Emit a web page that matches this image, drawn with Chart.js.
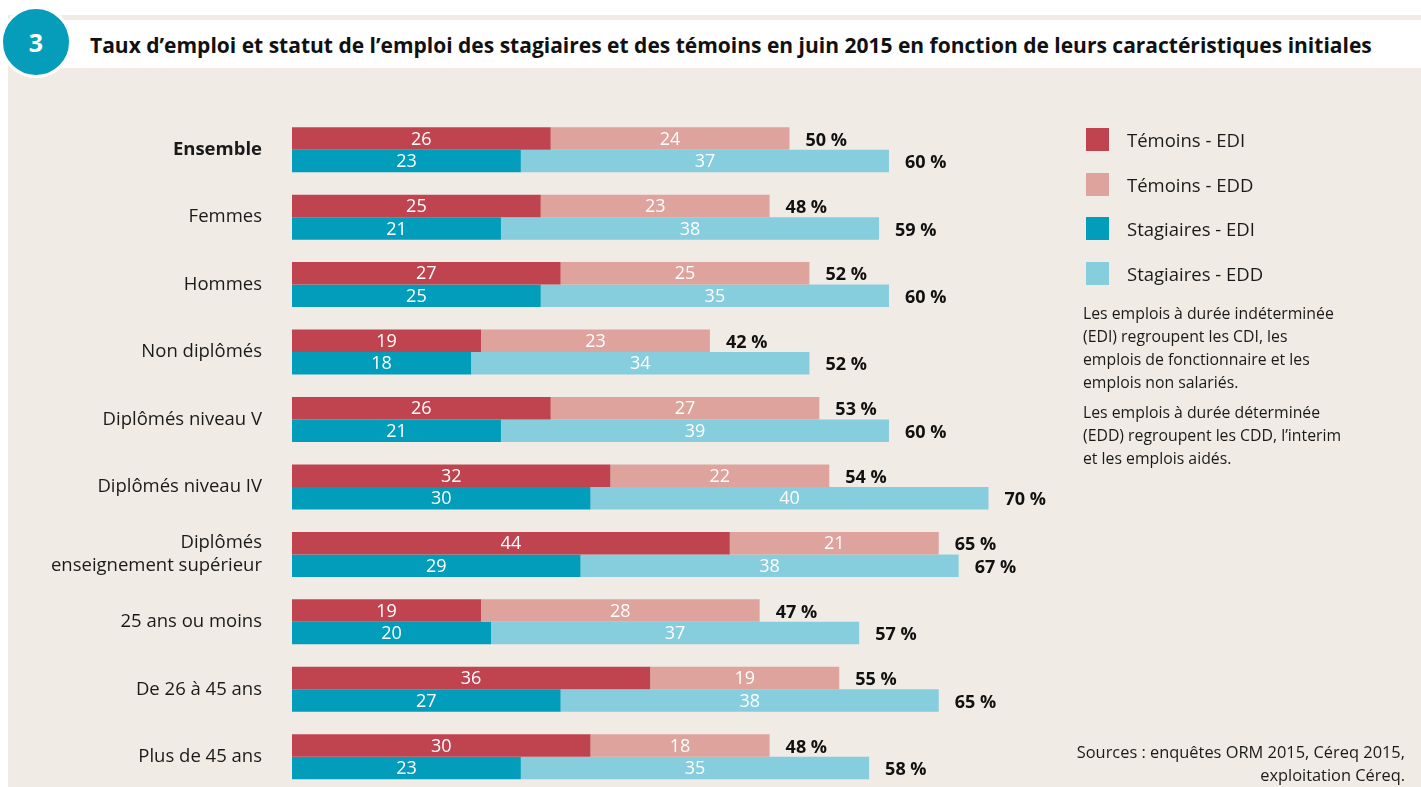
<!DOCTYPE html>
<html lang="fr">
<head>
<meta charset="utf-8">
<script src="https://cdn.jsdelivr.net/npm/chart.js@4.4.1/dist/chart.umd.min.js"></script>
<style>
    html, body { margin: 0; padding: 0; background: #ffffff; overflow: hidden; }
    body { width: 1421px; height: 787px; position: relative; font-family: "Open Sans", Lato, sans-serif; color: #1a1a1a; }
    .panel { position: absolute; left: 8px; top: 15px; right: 0; bottom: 0; background: #f0ece5; }
    .title-strip { position: absolute; left: 60px; top: 20px; right: 0; height: 48px; background: #ffffff; }
    .title {
        position: absolute; left: 90px; top: 31px;
        font-size: 21px; font-weight: 700; color: #111; white-space: nowrap;
    }
    .badge {
        position: absolute; left: 0px; top: 6px; width: 66px; height: 66px;
        border-radius: 50%; background: #069dbb; border: 3px solid #ffffff;
        color: #fff; font-weight: 700; font-size: 25px;
        display: flex; align-items: center; justify-content: center;
    }
    #chart { position: absolute; left: 0; top: 0; }
    .legend { position: absolute; left: 1086px; top: 128px; }
    .legend-item { display: flex; align-items: center; height: 23px; margin-bottom: 21.5px; font-size: 18.5px; }
    .legend-item span.sw { width: 23px; height: 23px; margin-right: 18px; display: inline-block; }
    .notes { position: absolute; left: 1083px; top: 302px; width: 320px; font-size: 15.8px; line-height: 23px; white-space: nowrap; }
    .notes p { margin: 0 0 7px 0; }
    .sources { position: absolute; right: 16px; top: 740px; font-size: 16.4px; line-height: 23px; text-align: right; }
</style>
</head>
<body>
<div class="panel"></div>
<div class="title-strip"></div>
<div class="badge">3</div>
<div class="title">Taux d’emploi et statut de l’emploi des stagiaires et des témoins en juin 2015 en fonction de leurs caractéristiques initiales</div>
<canvas id="chart" width="1421" height="824"></canvas>
<div class="legend" id="legend"></div>
<div class="notes">
    <p>Les emplois à durée indéterminée<br>(EDI) regroupent les CDI, les<br>emplois de fonctionnaire et les<br>emplois non salariés.</p>
    <p>Les emplois à durée déterminée<br>(EDD) regroupent les CDD, l’interim<br>et les emplois aidés.</p>
</div>
<div class="sources">Sources : enquêtes ORM 2015, Céreq 2015,<br>exploitation Céreq.</div>

<script>
// données
const categories = [
    'Ensemble', 'Femmes', 'Hommes', 'Non diplômés', 'Diplômés niveau V', 'Diplômés niveau IV',
    ['Diplômés', 'enseignement supérieur'], '25 ans ou moins', 'De 26 à 45 ans', 'Plus de 45 ans'
];
const temoinsEDI    = [26, 25, 27, 19, 26, 32, 44, 19, 36, 30];
const temoinsEDD    = [24, 23, 25, 23, 27, 22, 21, 28, 19, 18];
const stagiairesEDI = [23, 21, 25, 18, 21, 30, 29, 20, 27, 23];
const stagiairesEDD = [37, 38, 35, 34, 39, 40, 38, 37, 38, 35];

const seriesLabels = ['Témoins - EDI', 'Témoins - EDD', 'Stagiaires - EDI', 'Stagiaires - EDD'];
const seriesColors = ['#c0444f', '#dea39c', '#029dbb', '#86cddd'];

const fontFamily = '"Open Sans", Lato, sans-serif';

const datasets = [
    { label: seriesLabels[0], data: temoinsEDI, backgroundColor: seriesColors[0], stack: 'T' },
    { label: seriesLabels[1], data: temoinsEDD, backgroundColor: seriesColors[1], stack: 'T' },
    { label: seriesLabels[2], data: stagiairesEDI, backgroundColor: seriesColors[2], stack: 'S' },
    { label: seriesLabels[3], data: stagiairesEDD, backgroundColor: seriesColors[3], stack: 'S' }
].map(d => ({ ...d, borderWidth: 0, barPercentage: 1, categoryPercentage: 0.667 }));

// légende en HTML
document.getElementById('legend').innerHTML = seriesLabels.map((lbl, i) =>
    `<div class="legend-item"><span class="sw" style="background:${seriesColors[i]}"></span>${lbl}</div>`
).join('');

// valeurs dans les barres + totaux en bout de barre
const valueLabels = {
    id: 'valueLabels',
    afterDatasetsDraw(chart) {
        const ctx = chart.ctx;
        ctx.save();
        ctx.textBaseline = 'middle';
        chart.data.datasets.forEach((ds, di) => {
            const meta = chart.getDatasetMeta(di);
            meta.data.forEach((bar, i) => {
                ctx.fillStyle = '#ffffff';
                ctx.font = `18px ${fontFamily}`;
                ctx.textAlign = 'center';
                ctx.fillText(ds.data[i], (bar.x + bar.base) / 2, bar.y + 1);

                // dernier segment de la pile -> total
                if (di === 1 || di === 3) {
                    const first = chart.data.datasets[di - 1].data[i];
                    const total = first + ds.data[i];
                    ctx.fillStyle = '#111111';
                    ctx.font = `bold 18px ${fontFamily}`;
                    ctx.textAlign = 'left';
                    ctx.fillText(total + ' %', bar.x + 16, bar.y + 2);
                }
            });
        });
        ctx.restore();
    }
};

new Chart(document.getElementById('chart'), {
    type: 'bar',
    data: { labels: categories, datasets },
    plugins: [valueLabels],
    options: {
        indexAxis: 'y',
        responsive: false,
        animation: false,
        layout: { padding: { top: 116, bottom: 9, right: 333, left: 0 } },
        plugins: { legend: { display: false }, tooltip: { enabled: false } },
        scales: {
            x: { display: false, stacked: true, min: 0, max: 80 },
            y: {
                stacked: true,
                grid: { display: false },
                border: { display: false },
                afterFit(scale) { scale.width = 292; },
                ticks: {
                    padding: 22,
                    color: '#1a1a1a',
                    font: (c) => ({ family: fontFamily, size: 18.5, weight: c.index === 0 ? 'bold' : 'normal', lineHeight: 1.25 })
                }
            }
        }
    }
});
</script>
</body>
</html>
